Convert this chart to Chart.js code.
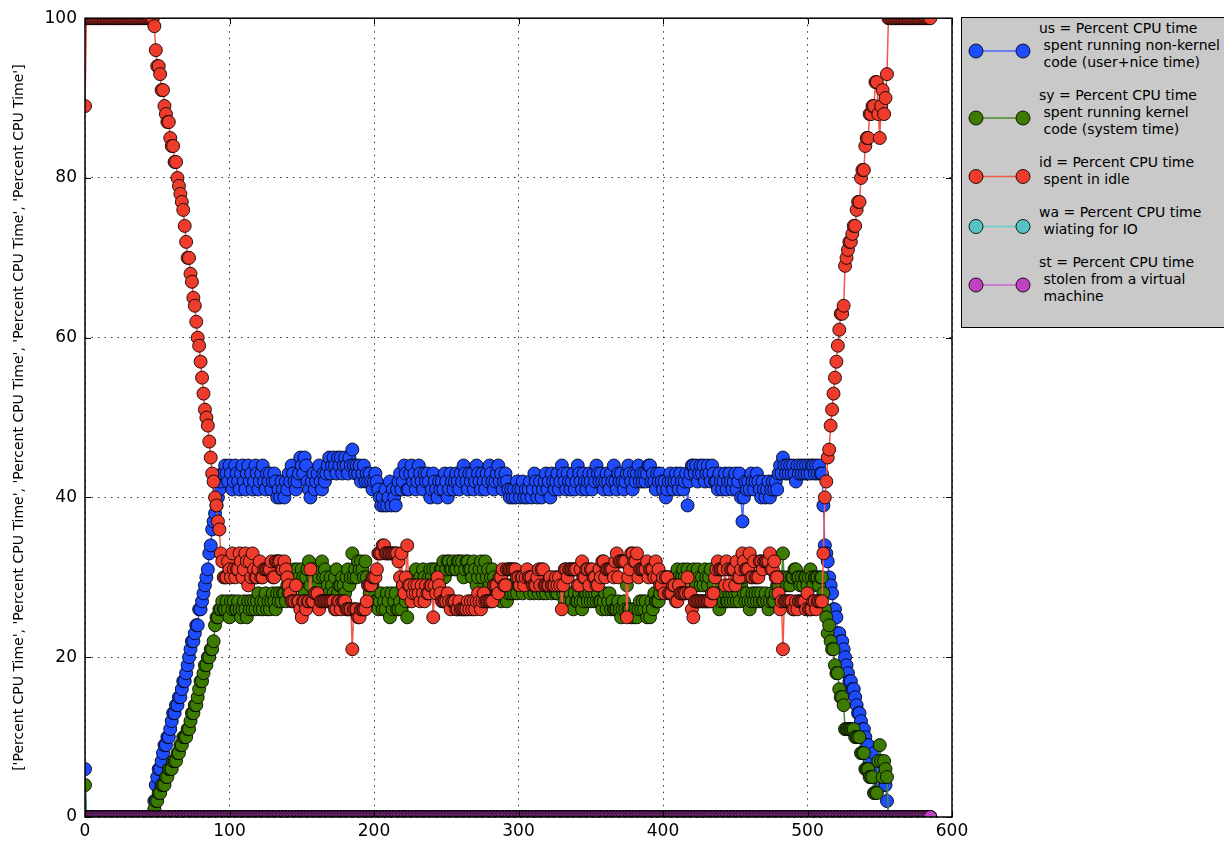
<!DOCTYPE html>
<html>
<head>
<meta charset="utf-8">
<title>vmstat CPU time</title>
<script src="https://cdn.jsdelivr.net/npm/chart.js@4.4.0/dist/chart.umd.min.js"></script>
<style>
  body { margin: 0; background: #fff; }
  #wrap { position: relative; width: 1224px; height: 842px; overflow: hidden; }
  #legend { position: absolute; left: 961px; top: 17px; width: 290px; height: 311px; background: #c9c9c9;
            border: 1px solid #000; box-sizing: border-box; }
  #legend svg { position: absolute; left: 0; top: 0; }
  .entry { position: absolute; left: 77px; font: 14px "DejaVu Sans", sans-serif; line-height: 17px;
           white-space: pre; color: #000; }
</style>
</head>
<body>
<div id="wrap">
  <canvas id="cpu" width="1224" height="842"></canvas>
  <div id="legend"></div>
</div>
<script>
// --- DATA (one value per vmstat sample, index = sample number) ---
const xTicks = [0, 100, 200, 300, 400, 500, 600];
const yTicks = [0, 20, 40, 60, 80, 100];
const yTitle = "['Percent CPU Time', 'Percent CPU Time', 'Percent CPU Time', 'Percent CPU Time', 'Percent CPU Time']";
const legendLabels = [
  "us = Percent CPU time\n spent running non-kernel\n code (user+nice time)",
  "sy = Percent CPU time\n spent running kernel\n code (system time)",
  "id = Percent CPU time\n spent in idle",
  "wa = Percent CPU time\n wiating for IO",
  "st = Percent CPU time\n stolen from a virtual\n machine"
];

const us = [
/*0*/   6,0,0,0,0,0,0,0,0,0,
/*10*/  0,0,0,0,0,0,0,0,0,0,
/*20*/  0,0,0,0,0,0,0,0,0,0,
/*30*/  0,0,0,0,0,0,0,0,0,0,
/*40*/  0,0,0,0,0,0,0,0,
/*48*/  2,4,5,6,6,7,8,9,9,10,
/*58*/  10,11,12,13,13,14,14,15,15,16,
/*68*/  17,17,18,19,20,21,22,22,23,24,
/*78*/  24,26,26,27,28,29,30,31,33,34,
/*88*/  36,37,38,39,40,41,42,43,43,
/*97*/  44,43,42,44,43,41,42,44,43,42,
/*107*/ 41,43,44,42,41,43,44,42,43,41,
/*117*/ 42,44,43,41,42,43,44,42,41,43,
/*127*/ 42,43,41,42,43,42,40,41,40,42,
/*137*/ 41,40,42,41,43,42,44,43,42,41,
/*147*/ 42,43,45,44,43,45,44,42,41,40,
/*157*/ 42,43,41,42,43,44,42,41,43,42,
/*167*/ 43,44,45,43,44,45,44,43,45,44,
/*177*/ 45,43,44,45,44,43,45,44,46,44,
/*187*/ 43,44,43,44,42,43,44,42,43,42,
/*197*/ 43,42,41,42,43,42,41,40,39,40,
/*207*/ 39,41,39,40,42,39,41,40,39,41,
/*217*/ 42,43,41,42,44,43,41,41,43,44,
/*227*/ 42,43,41,42,44,43,42,41,43,42,
/*237*/ 43,42,40,41,43,42,41,40,42,41,
/*247*/ 42,41,43,42,40,41,43,42,41,42,
/*257*/ 43,42,41,43,42,44,43,42,41,43,
/*267*/ 42,43,41,42,44,43,42,41,43,42,
/*277*/ 41,43,42,44,43,42,41,42,43,44,
/*287*/ 42,43,41,42,43,42,41,40,41,40,
/*297*/ 41,40,42,41,40,41,42,40,41,40,
/*307*/ 41,42,40,41,43,42,40,41,42,40,
/*317*/ 41,42,43,41,42,40,43,42,41,42,
/*327*/ 43,41,42,44,43,42,41,43,42,41,
/*337*/ 42,43,41,42,44,43,42,41,43,42,
/*347*/ 41,42,43,42,41,43,42,44,43,42,
/*357*/ 43,42,41,42,43,42,41,43,42,44,
/*367*/ 42,41,43,42,43,42,41,42,43,44,
/*377*/ 43,42,41,43,42,43,44,42,43,42,
/*387*/ 43,42,43,44,44,42,43,42,41,43,
/*397*/ 42,43,42,41,42,40,41,42,43,42,
/*407*/ 41,42,43,42,41,43,42,41,42,43,
/*417*/ 39,42,43,44,44,43,44,42,43,44,
/*427*/ 43,44,42,43,44,43,42,44,43,42,
/*437*/ 42,41,43,42,41,42,43,41,42,43,
/*447*/ 42,41,42,43,41,42,43,40,37,40,
/*457*/ 42,41,42,41,43,42,41,42,43,42,
/*467*/ 41,40,42,41,40,41,42,40,41,42,
/*477*/ 41,42,41,43,44,43,45,44,43,44,
/*487*/ 43,44,43,44,43,42,44,43,44,43,
/*497*/ 44,43,44,43,44,43,44,44,43,44,
/*507*/ 43,44,43,43,
/*511*/ 39,34,33,32,30,29,28,26,26,25,
/*521*/ 23,23,22,22,21,20,19,18,17,17,
/*531*/ 16,16,15,14,13,13,12,11,11,10,
/*541*/ 9,9,7,7,6,8,5,5,5,6,
/*551*/ 4,4,5,4,2,
/*556*/ 0,0,0,0,0,0,0,0,0,0,
/*566*/ 0,0,0,0,0,0,0,0,0,0,
/*576*/ 0,0,0,0,0,0,0,0,0,0
];

const sy = [
/*0*/   4,0,0,0,0,0,0,0,0,0,
/*10*/  0,0,0,0,0,0,0,0,0,0,
/*20*/  0,0,0,0,0,0,0,0,0,0,
/*30*/  0,0,0,0,0,0,0,0,0,0,
/*40*/  0,0,0,0,0,0,0,0,
/*48*/  1,2,2,3,3,4,4,4,5,5,
/*58*/  6,6,6,7,7,7,8,8,9,9,
/*68*/  10,10,10,11,11,12,13,13,14,14,
/*78*/  15,16,17,17,18,19,19,20,20,21,
/*88*/  21,22,24,25,25,26,26,27,26,
/*97*/  26,27,26,25,27,26,27,26,26,27,
/*107*/ 26,25,26,27,26,25,27,26,27,26,
/*117*/ 27,26,27,28,26,27,26,27,28,26,
/*127*/ 27,26,27,28,27,26,28,27,28,27,
/*137*/ 28,28,27,29,28,30,29,30,31,30,
/*147*/ 31,30,29,31,30,28,30,31,32,29,
/*157*/ 31,30,31,30,29,30,31,32,30,31,
/*167*/ 30,29,28,30,29,28,30,31,28,29,
/*177*/ 29,30,29,28,30,31,29,30,33,30,
/*187*/ 31,30,32,31,32,31,30,32,30,29,
/*197*/ 28,29,29,28,27,27,26,27,28,26,
/*207*/ 27,26,28,27,25,28,26,27,28,26,
/*217*/ 26,27,26,29,28,27,25,30,28,29,
/*227*/ 30,28,31,29,28,30,29,31,30,29,
/*237*/ 29,30,31,30,31,29,31,30,29,31,
/*247*/ 31,32,30,31,32,32,31,31,32,31,
/*257*/ 31,32,32,31,32,30,31,32,32,31,
/*267*/ 31,30,32,31,29,30,31,32,30,31,
/*277*/ 32,30,31,29,30,31,30,29,28,28,
/*287*/ 28,27,28,29,28,27,28,29,28,29,
/*297*/ 28,29,28,29,30,29,28,30,29,30,
/*307*/ 29,28,30,30,28,29,30,28,29,29,
/*317*/ 28,29,28,30,29,30,28,29,30,28,
/*327*/ 28,29,29,30,28,27,28,27,27,28,
/*337*/ 27,26,28,27,27,28,27,26,27,28,
/*347*/ 28,27,28,27,28,27,28,27,28,27,
/*357*/ 27,26,27,28,26,27,28,26,27,26,
/*367*/ 26,26,27,26,25,26,27,26,29,26,
/*377*/ 26,25,26,25,26,25,26,27,26,27,
/*387*/ 26,27,25,26,25,27,26,28,27,27,
/*397*/ 27,28,29,29,30,30,29,30,29,30,
/*407*/ 30,29,30,31,30,29,30,31,30,29,
/*417*/ 31,30,29,30,31,30,29,31,30,29,
/*427*/ 30,29,31,30,29,30,31,28,29,28,
/*437*/ 27,27,26,27,28,27,28,27,27,28,
/*447*/ 27,28,27,28,27,28,27,29,30,28,
/*457*/ 27,28,27,26,27,28,27,28,27,28,
/*467*/ 27,28,27,27,28,27,26,27,28,27,
/*477*/ 27,28,29,29,30,30,33,29,30,29,
/*487*/ 30,29,30,30,31,31,30,30,29,30,
/*497*/ 29,30,30,29,30,31,30,29,30,30,
/*507*/ 30,29,30,30,
/*511*/ 28,26,25,23,24,22,21,21,19,18,
/*521*/ 18,16,15,15,14,11,11,11,11,11,
/*531*/ 11,11,10,10,10,10,8,8,8,6,
/*541*/ 6,6,5,5,5,3,3,3,7,9,
/*551*/ 7,5,7,6,5,
/*556*/ 0,0,0,0,0,0,0,0,0,0,
/*566*/ 0,0,0,0,0,0,0,0,0,0,
/*576*/ 0,0,0,0,0,0,0,0,0,0
];

const idle = [
/*0*/   89,100,100,100,100,100,100,100,100,100,
/*10*/  100,100,100,100,100,100,100,100,100,100,
/*20*/  100,100,100,100,100,100,100,100,100,100,
/*30*/  100,100,100,100,100,100,100,100,100,100,
/*40*/  100,100,100,100,100,100,100,100,
/*48*/  99,96,94,94,93,91,91,89,88,87,
/*58*/  87,85,84,84,82,82,80,79,78,77,
/*68*/  76,74,72,70,70,68,67,65,64,62,
/*78*/  60,59,57,55,53,51,50,49,47,45,
/*88*/  43,42,40,39,37,36,33,32,30,
/*97*/  30,30,32,31,30,33,31,30,31,31,
/*107*/ 33,32,30,31,33,32,29,32,30,33,
/*117*/ 31,30,30,31,32,30,30,31,31,31,
/*127*/ 31,31,32,30,30,32,32,32,32,31,
/*137*/ 31,32,31,30,29,28,27,27,27,29,
/*147*/ 27,27,26,25,27,27,26,27,27,31,
/*157*/ 27,27,28,28,28,26,27,27,27,27,
/*167*/ 27,27,27,27,27,27,26,26,27,27,
/*177*/ 26,27,27,27,26,26,26,26,21,26,
/*187*/ 26,26,25,25,26,26,26,26,27,29,
/*197*/ 29,29,30,30,30,31,33,33,33,34,
/*207*/ 34,33,33,33,33,33,33,33,33,33,
/*217*/ 32,30,33,29,28,30,34,29,29,27,
/*227*/ 28,29,28,29,28,27,29,28,27,29,
/*237*/ 28,28,29,29,25,29,28,30,29,28,
/*247*/ 27,27,27,27,28,27,26,27,27,27,
/*257*/ 26,26,27,26,26,26,26,26,27,26,
/*267*/ 27,26,27,26,27,28,27,26,27,28,
/*277*/ 27,27,27,27,27,27,29,29,29,28,
/*287*/ 30,30,31,29,29,31,31,31,31,31,
/*297*/ 31,31,30,30,29,30,30,29,30,31,
/*307*/ 30,30,30,29,29,29,30,31,29,31,
/*317*/ 31,29,29,29,29,30,29,29,29,30,
/*327*/ 29,30,29,26,29,31,31,30,31,31,
/*337*/ 31,31,31,31,29,29,31,32,30,30,
/*347*/ 31,31,29,31,31,30,30,29,29,31,
/*357*/ 30,32,32,30,31,31,31,31,31,30,
/*367*/ 32,33,30,32,32,32,32,32,25,30,
/*377*/ 31,33,33,32,32,33,30,31,31,31,
/*387*/ 31,31,32,30,31,31,31,30,32,30,
/*397*/ 31,29,29,30,28,30,30,28,28,28,
/*407*/ 29,29,27,27,29,28,28,28,28,28,
/*417*/ 30,28,28,26,25,27,27,27,27,27,
/*427*/ 27,27,27,27,27,27,27,28,28,30,
/*437*/ 31,32,31,31,31,31,29,32,31,29,
/*447*/ 31,31,31,29,32,30,30,31,33,32,
/*457*/ 31,31,31,33,30,30,32,30,30,30,
/*467*/ 32,32,31,32,32,32,32,33,31,31,
/*477*/ 32,30,30,28,26,27,21,27,27,27,
/*487*/ 27,27,27,26,26,27,26,27,27,27,
/*497*/ 27,27,26,28,26,26,26,27,27,26,
/*507*/ 27,27,27,27,
/*511*/ 33,40,42,45,46,49,51,53,55,57,
/*521*/ 59,61,63,63,64,69,70,71,72,72,
/*531*/ 73,74,74,76,77,77,80,81,81,84,
/*541*/ 85,85,88,88,89,89,92,92,88,85,
/*551*/ 89,91,88,90,93,
/*556*/ 100,100,100,100,100,100,100,100,100,100,
/*566*/ 100,100,100,100,100,100,100,100,100,100,
/*576*/ 100,100,100,100,100,100,100,100,100,100
];

const wa = [
/*0*/   0,0,0,0,0,0,0,0,0,0,0,0,0,0,0,0,0,0,0,0,
/*20*/  0,0,0,0,0,0,0,0,0,0,0,0,0,0,0,0,0,0,0,0,
/*40*/  0,0,0,0,0,0,0,0,0,0,0,0,0,0,0,0,0,0,0,0,
/*60*/  0,0,0,0,0,0,0,0,0,0,0,0,0,0,0,0,0,0,0,0,
/*80*/  0,0,0,0,0,0,0,0,0,0,0,0,0,0,0,0,0,0,0,0,
/*100*/ 0,0,0,0,0,0,0,0,0,0,0,0,0,0,0,0,0,0,0,0,
/*120*/ 0,0,0,0,0,0,0,0,0,0,0,0,0,0,0,0,0,0,0,0,
/*140*/ 0,0,0,0,0,0,0,0,0,0,0,0,0,0,0,0,0,0,0,0,
/*160*/ 0,0,0,0,0,0,0,0,0,0,0,0,0,0,0,0,0,0,0,0,
/*180*/ 0,0,0,0,0,0,0,0,0,0,0,0,0,0,0,0,0,0,0,0,
/*200*/ 0,0,0,0,0,0,0,0,0,0,0,0,0,0,0,0,0,0,0,0,
/*220*/ 0,0,0,0,0,0,0,0,0,0,0,0,0,0,0,0,0,0,0,0,
/*240*/ 0,0,0,0,0,0,0,0,0,0,0,0,0,0,0,0,0,0,0,0,
/*260*/ 0,0,0,0,0,0,0,0,0,0,0,0,0,0,0,0,0,0,0,0,
/*280*/ 0,0,0,0,0,0,0,0,0,0,0,0,0,0,0,0,0,0,0,0,
/*300*/ 0,0,0,0,0,0,0,0,0,0,0,0,0,0,0,0,0,0,0,0,
/*320*/ 0,0,0,0,0,0,0,0,0,0,0,0,0,0,0,0,0,0,0,0,
/*340*/ 0,0,0,0,0,0,0,0,0,0,0,0,0,0,0,0,0,0,0,0,
/*360*/ 0,0,0,0,0,0,0,0,0,0,0,0,0,0,0,0,0,0,0,0,
/*380*/ 0,0,0,0,0,0,0,0,0,0,0,0,0,0,0,0,0,0,0,0,
/*400*/ 0,0,0,0,0,0,0,0,0,0,0,0,0,0,0,0,0,0,0,0,
/*420*/ 0,0,0,0,0,0,0,0,0,0,0,0,0,0,0,0,0,0,0,0,
/*440*/ 0,0,0,0,0,0,0,0,0,0,0,0,0,0,0,0,0,0,0,0,
/*460*/ 0,0,0,0,0,0,0,0,0,0,0,0,0,0,0,0,0,0,0,0,
/*480*/ 0,0,0,0,0,0,0,0,0,0,0,0,0,0,0,0,0,0,0,0,
/*500*/ 0,0,0,0,0,0,0,0,0,0,0,0,0,0,0,0,0,0,0,0,
/*520*/ 0,0,0,0,0,0,0,0,0,0,0,0,0,0,0,0,0,0,0,0,
/*540*/ 0,0,0,0,0,0,0,0,0,0,0,0,0,0,0,0,0,0,0,0,
/*560*/ 0,0,0,0,0,0,0,0,0,0,0,0,0,0,0,0,0,0,0,0,
/*580*/ 0,0,0,0,0,0
];

const st = [
/*0*/   0,0,0,0,0,0,0,0,0,0,0,0,0,0,0,0,0,0,0,0,
/*20*/  0,0,0,0,0,0,0,0,0,0,0,0,0,0,0,0,0,0,0,0,
/*40*/  0,0,0,0,0,0,0,0,0,0,0,0,0,0,0,0,0,0,0,0,
/*60*/  0,0,0,0,0,0,0,0,0,0,0,0,0,0,0,0,0,0,0,0,
/*80*/  0,0,0,0,0,0,0,0,0,0,0,0,0,0,0,0,0,0,0,0,
/*100*/ 0,0,0,0,0,0,0,0,0,0,0,0,0,0,0,0,0,0,0,0,
/*120*/ 0,0,0,0,0,0,0,0,0,0,0,0,0,0,0,0,0,0,0,0,
/*140*/ 0,0,0,0,0,0,0,0,0,0,0,0,0,0,0,0,0,0,0,0,
/*160*/ 0,0,0,0,0,0,0,0,0,0,0,0,0,0,0,0,0,0,0,0,
/*180*/ 0,0,0,0,0,0,0,0,0,0,0,0,0,0,0,0,0,0,0,0,
/*200*/ 0,0,0,0,0,0,0,0,0,0,0,0,0,0,0,0,0,0,0,0,
/*220*/ 0,0,0,0,0,0,0,0,0,0,0,0,0,0,0,0,0,0,0,0,
/*240*/ 0,0,0,0,0,0,0,0,0,0,0,0,0,0,0,0,0,0,0,0,
/*260*/ 0,0,0,0,0,0,0,0,0,0,0,0,0,0,0,0,0,0,0,0,
/*280*/ 0,0,0,0,0,0,0,0,0,0,0,0,0,0,0,0,0,0,0,0,
/*300*/ 0,0,0,0,0,0,0,0,0,0,0,0,0,0,0,0,0,0,0,0,
/*320*/ 0,0,0,0,0,0,0,0,0,0,0,0,0,0,0,0,0,0,0,0,
/*340*/ 0,0,0,0,0,0,0,0,0,0,0,0,0,0,0,0,0,0,0,0,
/*360*/ 0,0,0,0,0,0,0,0,0,0,0,0,0,0,0,0,0,0,0,0,
/*380*/ 0,0,0,0,0,0,0,0,0,0,0,0,0,0,0,0,0,0,0,0,
/*400*/ 0,0,0,0,0,0,0,0,0,0,0,0,0,0,0,0,0,0,0,0,
/*420*/ 0,0,0,0,0,0,0,0,0,0,0,0,0,0,0,0,0,0,0,0,
/*440*/ 0,0,0,0,0,0,0,0,0,0,0,0,0,0,0,0,0,0,0,0,
/*460*/ 0,0,0,0,0,0,0,0,0,0,0,0,0,0,0,0,0,0,0,0,
/*480*/ 0,0,0,0,0,0,0,0,0,0,0,0,0,0,0,0,0,0,0,0,
/*500*/ 0,0,0,0,0,0,0,0,0,0,0,0,0,0,0,0,0,0,0,0,
/*520*/ 0,0,0,0,0,0,0,0,0,0,0,0,0,0,0,0,0,0,0,0,
/*540*/ 0,0,0,0,0,0,0,0,0,0,0,0,0,0,0,0,0,0,0,0,
/*560*/ 0,0,0,0,0,0,0,0,0,0,0,0,0,0,0,0,0,0,0,0,
/*580*/ 0,0,0,0,0,0
];

// --- STYLE ---
const series = [us, sy, idle, wa, st];
const fills = ['#1f4bff', '#3c7a00', '#ee3b2b', '#55c3c3', '#c042c0'];
const lines = ['#4a66ff', '#4e8a2c', '#f0584a', '#66cccc', '#cc66cc'];
const FONT = '"DejaVu Sans", sans-serif';

const lens = series.map(s => s.length);
if (new Set(lens).size > 1) throw new Error("series length mismatch: " + lens.join(","));

// axes frame + inward tick marks like matplotlib
const frame = {
  id: 'frame',
  afterDraw(chart) {
    const { ctx, chartArea: a, scales: { x, y } } = chart;
    ctx.save();
    ctx.strokeStyle = '#000';
    ctx.lineWidth = 1;
    ctx.beginPath();
    x.ticks.forEach(t => {
      const px = Math.round(x.getPixelForValue(t.value)) + 0.5;
      ctx.moveTo(px, a.bottom); ctx.lineTo(px, a.bottom - 6);
      ctx.moveTo(px, a.top); ctx.lineTo(px, a.top + 6);
    });
    y.ticks.forEach(t => {
      const py = Math.round(y.getPixelForValue(t.value)) + 0.5;
      ctx.moveTo(a.left, py); ctx.lineTo(a.left + 6, py);
      ctx.moveTo(a.right, py); ctx.lineTo(a.right - 6, py);
    });
    ctx.stroke();
    ctx.lineWidth = 1.5;
    ctx.strokeRect(a.left, a.top, a.right - a.left, a.bottom - a.top);
    ctx.restore();
  }
};

new Chart(document.getElementById('cpu'), {
  type: 'line',
  data: {
    datasets: series.map((s, k) => ({
      data: s.map((v, i) => ({ x: i, y: v })),
      borderColor: lines[k],
      borderWidth: 1.5,
      pointBackgroundColor: fills[k],
      pointBorderColor: 'rgba(0,0,0,0.85)',
      pointBorderWidth: 1,
      pointRadius: 6.5,
      tension: 0,
      clip: 0,
      order: series.length - k
    }))
  },
  options: {
    responsive: false,
    animation: false,
    events: [],
    layout: { padding: { top: 17, right: 272, left: 0, bottom: 0 } },
    plugins: { legend: { display: false }, tooltip: { enabled: false } },
    scales: {
      x: {
        type: 'linear', min: 0, max: 600,
        afterBuildTicks: s => { s.ticks = xTicks.map(v => ({ value: v })); },
        afterFit: s => { s.height = 25; },
        grid: { color: 'rgba(0,0,0,0.8)', lineWidth: 1, drawTicks: false },
        border: { display: false, dash: [1.5, 5] },
        ticks: { color: '#000', font: { family: FONT, size: 17 }, padding: 4, maxRotation: 0, autoSkip: false }
      },
      y: {
        min: 0, max: 100,
        afterBuildTicks: s => { s.ticks = yTicks.map(v => ({ value: v })); },
        afterFit: s => { s.width = 85; },
        grid: { color: 'rgba(0,0,0,0.8)', lineWidth: 1, drawTicks: false },
        border: { display: false, dash: [1.5, 5] },
        ticks: { color: '#000', font: { family: FONT, size: 17 }, padding: 8 },
        title: { display: true, text: yTitle, color: '#000', font: { family: FONT, size: 14 }, padding: { top: 11, bottom: 0 } }
      }
    }
  },
  plugins: [frame]
});

// --- LEGEND ---
const legendBox = document.getElementById('legend');
let svg = '<svg width="290" height="311" xmlns="http://www.w3.org/2000/svg">';
let entryTop = 2;
legendLabels.forEach((txt, k) => {
  const n = txt.split('\n').length;
  const cy = entryTop + n * 17 / 2 + 5.5;
  svg += `<line x1="14" y1="${cy}" x2="61" y2="${cy}" stroke="${lines[k]}" stroke-width="1.5"/>` +
         `<circle cx="14" cy="${cy}" r="7" fill="${fills[k]}" stroke="rgba(0,0,0,0.85)" stroke-width="1"/>` +
         `<circle cx="61" cy="${cy}" r="7" fill="${fills[k]}" stroke="rgba(0,0,0,0.85)" stroke-width="1"/>`;
  const div = document.createElement('div');
  div.className = 'entry';
  div.style.top = entryTop + 'px';
  div.textContent = txt;
  legendBox.appendChild(div);
  entryTop += n * 17 + 16;
});
legendBox.insertAdjacentHTML('afterbegin', svg + '</svg>');
</script>
</body>
</html>
